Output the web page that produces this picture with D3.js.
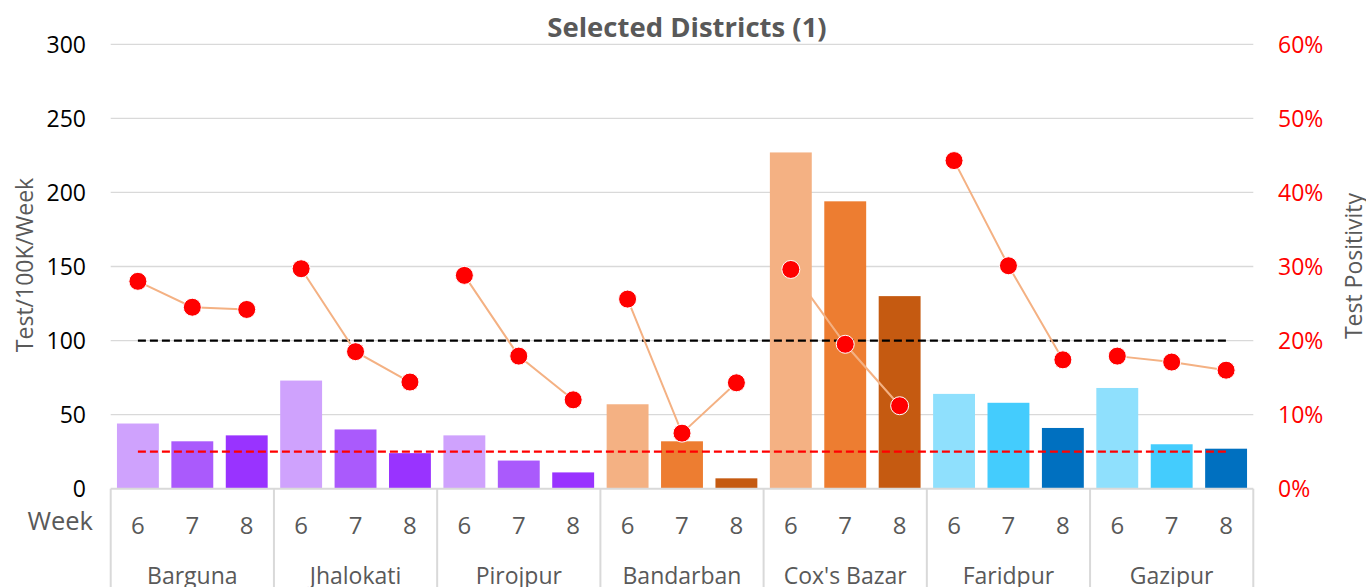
<!DOCTYPE html>
<html>
<head>
<meta charset="utf-8">
<script src="https://cdn.jsdelivr.net/npm/d3@7"></script>
<style>
  body { margin: 0; background: #fff; }
  svg { display: block; font-family: "Open Sans", "Noto Sans", sans-serif; }
</style>
</head>
<body>
<script>
// Selected districts: tests per 100K per week (bars) and test positivity (dots)

var districts = ["Barguna", "Jhalokati", "Pirojpur", "Bandarban", "Cox's Bazar", "Faridpur", "Gazipur"],
    weeks = ["6", "7", "8"];

var testsPer100k = [
  [44, 32, 36],
  [73, 40, 24],
  [36, 19, 11],
  [57, 32, 7],
  [227, 194, 130],
  [64, 58, 41],
  [68, 30, 27]
];

var positivity = [
  [28.0, 24.5, 24.2],
  [29.7, 18.5, 14.4],
  [28.8, 17.9, 12.0],
  [25.6, 7.5, 14.3],
  [29.6, 19.5, 11.2],
  [44.3, 30.1, 17.4],
  [17.9, 17.1, 16.0]
];

var leftTicks = [0, 50, 100, 150, 200, 250, 300],
    rightTicks = [0, 10, 20, 30, 40, 50, 60];

var testTarget = 100,      // black dashed
    positivityTarget = 5;  // red dashed, in %

var districtColors = [
  ["#CFA2FD", "#AA5AFC", "#9933FF"],
  ["#CFA2FD", "#AA5AFC", "#9933FF"],
  ["#CFA2FD", "#AA5AFC", "#9933FF"],
  ["#F4B183", "#ED7D31", "#C55A11"],
  ["#F4B183", "#ED7D31", "#C55A11"],
  ["#8FE0FD", "#44CCFD", "#0070C0"],
  ["#8FE0FD", "#44CCFD", "#0070C0"]
];

var width = 1366, height = 587,
    plot = {left: 110.7, right: 1253.3, top: 44.3, bottom: 488.7},
    grid = "#D9D9D9", grey = "#595959";

var svg = d3.select("body").append("svg")
  .attr("width", width)
  .attr("height", height);

var x0 = d3.scaleBand().domain(districts).range([plot.left, plot.right]).padding(0);
var x1 = d3.scaleBand().domain(weeks).range([0, x0.bandwidth()])
  .paddingInner(0.23).paddingOuter(0.115);
var yL = d3.scaleLinear().domain([0, 300]).range([plot.bottom, plot.top]);
var yR = d3.scaleLinear().domain([0, 60]).range([plot.bottom, plot.top]);

// gridlines
svg.append("g").selectAll("line").data(leftTicks.slice(1)).enter().append("line")
  .attr("x1", plot.left).attr("x2", plot.right)
  .attr("y1", function(d){ return yL(d); })
  .attr("y2", function(d){ return yL(d); })
  .attr("stroke", grid).attr("stroke-width", 1.3);

// left axis labels
svg.append("g").selectAll("text").data(leftTicks).enter().append("text")
  .attr("x", 86).attr("y", function(d){ return yL(d); })
  .attr("dy", "0.36em")
  .attr("text-anchor", "end")
  .attr("font-size", 23).attr("fill", "#000")
  .text(function(d){ return d; });

// right axis labels
svg.append("g").selectAll("text").data(rightTicks).enter().append("text")
  .attr("x", 1278).attr("y", function(d){ return yR(d); })
  .attr("dy", "0.36em")
  .attr("font-size", 23).attr("fill", "#FF0000")
  .text(function(d){ return d + "%"; });

// bars
var groups = svg.append("g").selectAll("g").data(districts).enter().append("g")
  .attr("transform", function(d){ return "translate(" + x0(d) + ",0)"; });

groups.selectAll("rect").data(function(d, i){
    return weeks.map(function(w, j){ return {week: w, value: testsPer100k[i][j], color: districtColors[i][j]}; });
  }).enter().append("rect")
  .attr("x", function(d){ return x1(d.week); })
  .attr("width", x1.bandwidth())
  .attr("y", function(d){ return yL(d.value); })
  .attr("height", function(d){ return yL(0) - yL(d.value); })
  .attr("fill", function(d){ return d.color; });

// target lines
var firstX = x0(districts[0]) + x1(weeks[0]) + x1.bandwidth() / 2,
    lastX = x0(districts[districts.length - 1]) + x1(weeks[weeks.length - 1]) + x1.bandwidth() / 2;

svg.append("line")
  .attr("x1", firstX).attr("x2", lastX)
  .attr("y1", yL(testTarget)).attr("y2", yL(testTarget))
  .attr("stroke", "#000").attr("stroke-width", 2.2)
  .attr("stroke-dasharray", "8,4");

svg.append("line")
  .attr("x1", firstX).attr("x2", lastX)
  .attr("y1", yR(positivityTarget)).attr("y2", yR(positivityTarget))
  .attr("stroke", "#FF0000").attr("stroke-width", 2.2)
  .attr("stroke-dasharray", "8,4");

// positivity lines and dots
var line = d3.line()
  .x(function(d){ return x1(d.week) + x1.bandwidth() / 2; })
  .y(function(d){ return yR(d.value); });

var posGroups = svg.append("g").selectAll("g").data(districts).enter().append("g")
  .attr("transform", function(d){ return "translate(" + x0(d) + ",0)"; });

posGroups.each(function(d, i){
  var pts = weeks.map(function(w, j){ return {week: w, value: positivity[i][j]}; });
  var g = d3.select(this);
  g.append("path").datum(pts)
    .attr("d", line)
    .attr("fill", "none")
    .attr("stroke", "#F4B183")
    .attr("stroke-width", 2);
  g.selectAll("circle").data(pts).enter().append("circle")
    .attr("cx", function(p){ return x1(p.week) + x1.bandwidth() / 2; })
    .attr("cy", function(p){ return yR(p.value); })
    .attr("r", 9)
    .attr("fill", "#FF0000")
    .attr("stroke", "#fff")
    .attr("stroke-width", 1);
});

// category axis
svg.append("line")
  .attr("x1", plot.left).attr("x2", plot.right)
  .attr("y1", plot.bottom).attr("y2", plot.bottom)
  .attr("stroke", grid).attr("stroke-width", 2);

svg.append("g").selectAll("line").data(districts.concat(["end"])).enter().append("line")
  .attr("x1", function(d, i){ return i < districts.length ? x0(d) : plot.right; })
  .attr("x2", function(d, i){ return i < districts.length ? x0(d) : plot.right; })
  .attr("y1", plot.bottom).attr("y2", height)
  .attr("stroke", grid).attr("stroke-width", 2);

groups.selectAll("text.week").data(weeks).enter().append("text")
  .attr("class", "week")
  .attr("x", function(w){ return x1(w) + x1.bandwidth() / 2; })
  .attr("y", 525).attr("dy", "0.36em")
  .attr("text-anchor", "middle")
  .attr("font-size", 24).attr("fill", grey)
  .text(function(w){ return w; });

groups.append("text")
  .attr("x", x0.bandwidth() / 2)
  .attr("y", 584)
  .attr("text-anchor", "middle")
  .attr("font-size", 23).attr("fill", grey)
  .text(function(d){ return d; });

svg.append("text")
  .attr("x", 93).attr("y", 521).attr("dy", "0.36em")
  .attr("text-anchor", "end")
  .attr("font-size", 25.5).attr("fill", grey)
  .text("Week");

// axis titles
svg.append("text")
  .attr("transform", "translate(33,265) rotate(-90)")
  .attr("text-anchor", "middle")
  .attr("font-size", 23).attr("fill", grey)
  .text("Test/100K/Week");

svg.append("text")
  .attr("transform", "translate(1362,266) rotate(-90)")
  .attr("text-anchor", "middle")
  .attr("font-size", 23).attr("fill", grey)
  .text("Test Positivity");

// title
svg.append("text")
  .attr("x", 687).attr("y", 37)
  .attr("text-anchor", "middle")
  .attr("font-size", 27.5).attr("font-weight", "bold").attr("fill", grey)
  .text("Selected Districts (1)");
</script>
</body>
</html>
